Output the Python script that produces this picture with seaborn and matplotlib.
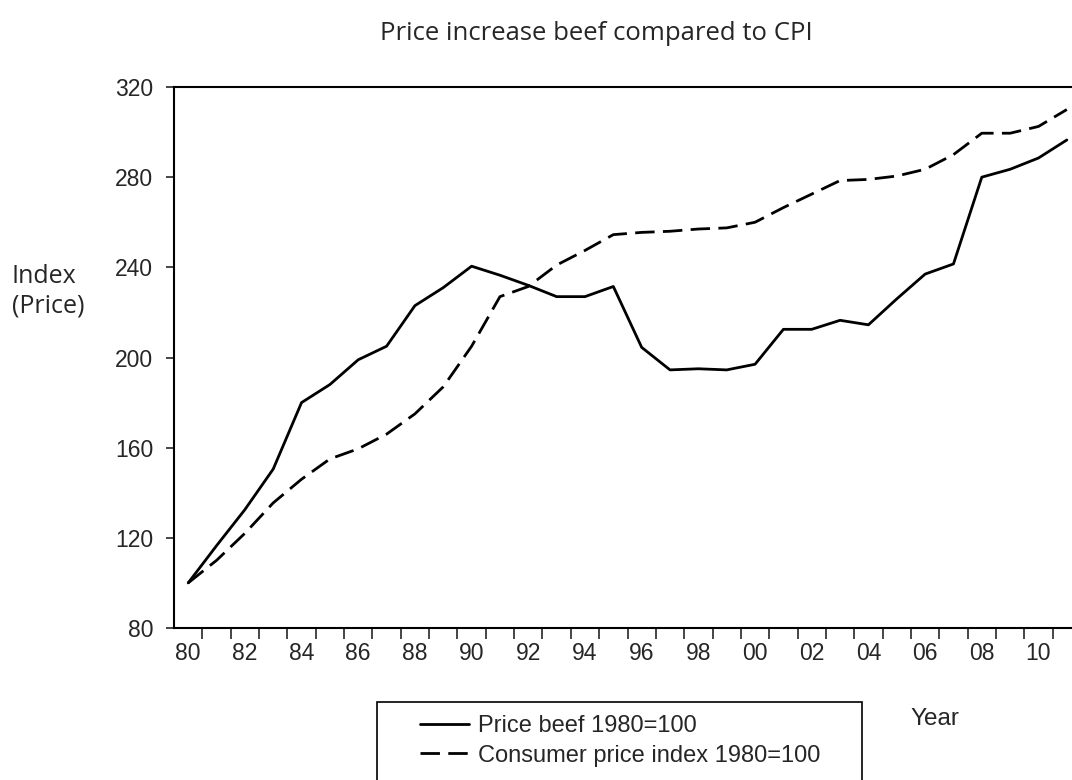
import numpy as np
import pandas as pd
import matplotlib
matplotlib.use("Agg")
import matplotlib.pyplot as plt
from matplotlib.patches import Rectangle
from matplotlib.lines import Line2D
import seaborn as sns

# data (index, 1980 = 100)
years = list(range(1980, 2012))
beef = [100, 116.5, 132.5, 150.5, 180, 188, 199, 205, 223, 231, 240.5, 236.5,
        232, 227, 227, 231.5, 204.5, 194.5, 195, 194.5, 197, 212.5, 212.5, 216.5,
        214.5, 226, 237, 241.5, 280, 283.5, 288.5, 296.5]
cpi = [100, 110, 122, 135.5, 146, 155, 159.5, 166, 175, 187, 205, 227,
       231.5, 241, 247.5, 254.5, 255.5, 256, 257, 257.5, 260, 266.5, 272.5, 278.5,
       279, 280.5, 283.5, 290, 299.5, 299.5, 302.5, 310]
series_names = ["Price beef 1980=100", "Consumer price index 1980=100"]
y_ticks = [80, 120, 160, 200, 240, 280, 320]

df = pd.DataFrame({
    "year": years * 2,
    "value": beef + cpi,
    "series": [series_names[0]] * len(years) + [series_names[1]] * len(years),
})

sns.set_style("ticks")
plt.rcParams['font.family'] = ['Liberation Sans', 'DejaVu Sans']

fig = plt.figure(figsize=(10.72, 7.8), dpi=100)
ax = fig.add_axes([174 / 1072, 1 - 628 / 780, 907 / 1072, 541 / 780])

dash_map = {series_names[0]: "", series_names[1]: (7, 3)}
sns.lineplot(data=df, x="year", y="value", style="series", dashes=dash_map,
             color="black", linewidth=2.0, legend=False, ax=ax)

ax.set_xlim(1979.5, 2011.5)
ax.set_ylim(80, 320)
ax.set_yticks(y_ticks)
ax.set_yticklabels([str(t) for t in y_ticks], fontsize=16.5)

# labels every two years, ticks at year boundaries
ax.set_xticks(years[::2])
ax.set_xticklabels([f"{y % 100:02d}" for y in years[::2]], fontsize=16.5)
ax.set_xticks(np.arange(1980.5, 2011.5, 1), minor=True)
ax.tick_params(axis="x", which="major", length=0, pad=10)
ax.tick_params(axis="x", which="minor", length=8, width=1.2, direction="out")
ax.tick_params(axis="y", length=6, width=1.2, direction="out", pad=9)

for s in ax.spines.values():
    s.set_visible(True)
    s.set_linewidth(1.5)
    s.set_color("black")

ax.set_xlabel("")
ax.set_ylabel("")

fig.text(596 / 1072, 1 - 33 / 780, "Price increase beef compared to CPI",
         ha="center", va="center", fontsize=18.5, family=["Open Sans", "DejaVu Sans"])
fig.text(12 / 1072, 1 - 291 / 780, "Index\n(Price)", ha="left", va="center",
         fontsize=18, linespacing=1.25, family=["Open Sans", "DejaVu Sans"])
fig.text(935 / 1072, 1 - 719 / 780, "Year", ha="center", va="center", fontsize=17.5)

# legend box
fig.patches.append(Rectangle((377 / 1072, -0.02), (862 - 377) / 1072, 1 - 702 / 780 + 0.02,
                             transform=fig.transFigure, fill=False, edgecolor="black",
                             linewidth=1.2))
handles = [Line2D([], [], color="black", linewidth=2.0),
           Line2D([], [], color="black", linewidth=2.0, dashes=(7, 3))]
fig.legend(handles, series_names, loc="upper left",
           bbox_to_anchor=(408 / 1072, 1 - 703 / 780), frameon=False, fontsize=17,
           handlelength=2.1, handletextpad=0.35, labelspacing=0.33, borderpad=0)

fig.savefig("out.png", dpi=100)
